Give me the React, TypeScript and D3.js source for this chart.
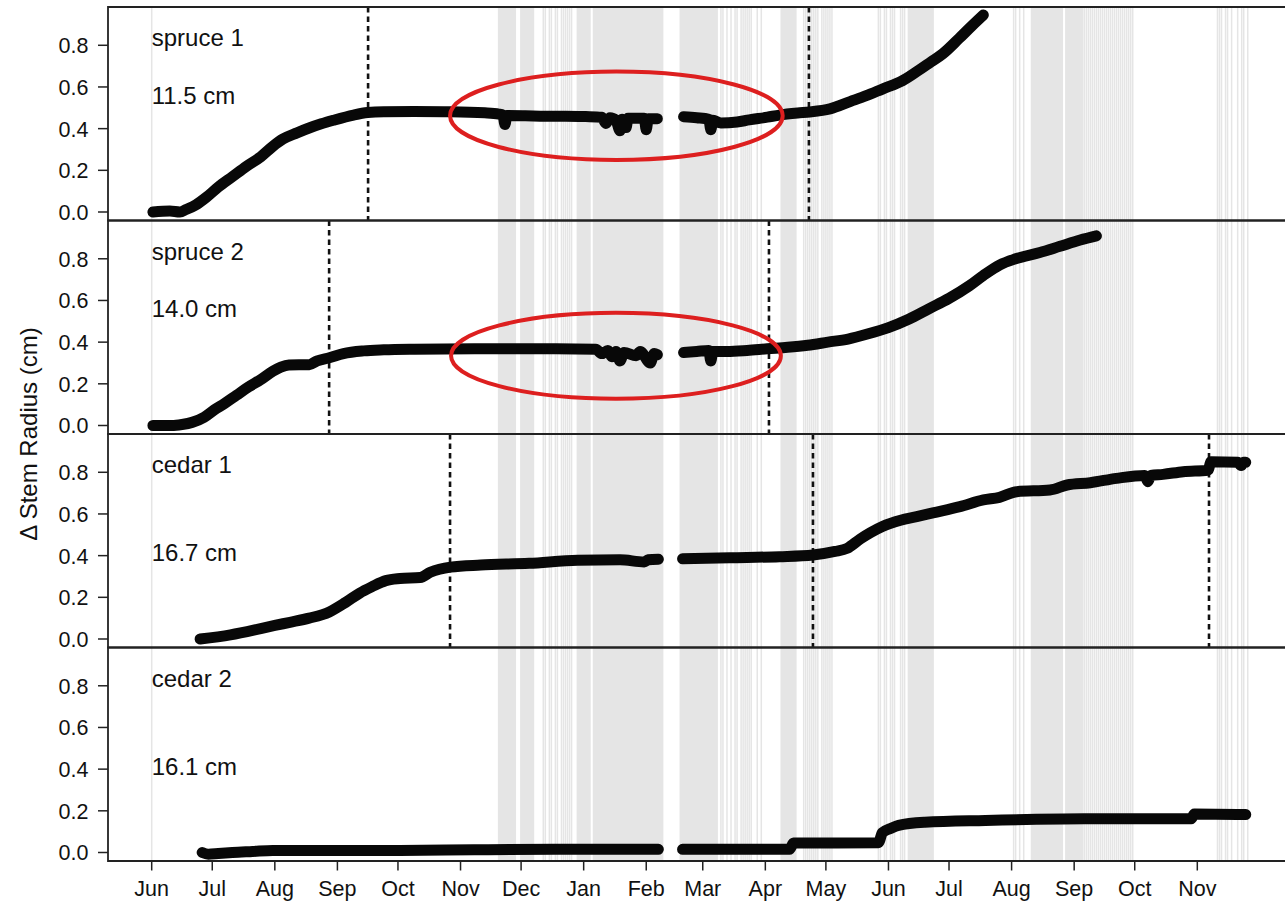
import React, { useEffect, useRef } from 'react'
import * as d3 from 'd3'

// time is counted in days since 1 Jun 2014
const startDate = new Date(Date.UTC(2014, 5, 1))
const lastTickDate = new Date(Date.UTC(2015, 10, 1))

const treeNames = ['spruce 1', 'spruce 2', 'cedar 1', 'cedar 2']
const treeSizes = ['11.5 cm', '14.0 cm', '16.7 cm', '16.1 cm']
const nameLabelValue = [0.835, 0.835, 0.835, 0.835]
const sizeLabelValue = [0.56, 0.56, 0.415, 0.415]
const yTicks = [0, 0.2, 0.4, 0.6, 0.8]

// [day, stem radius change in cm], null = no data
const spruce1 = [
  [0.6, 0.0], [9, 0.005], [14, 0.0], [17, 0.012], [22, 0.035], [27, 0.07], [33, 0.12],
  [40, 0.17], [47, 0.22], [54, 0.265], [60, 0.315], [65, 0.35], [72, 0.38], [78, 0.403],
  [84, 0.423], [90, 0.44], [100, 0.465], [107, 0.477], [115, 0.481], [130, 0.482],
  [148, 0.481], [165, 0.476], [172, 0.47], [174, 0.465], [175, 0.42], [176, 0.463],
  [185, 0.462], [195, 0.46], [205, 0.46], [215, 0.458], [223, 0.455], [225, 0.425],
  [227, 0.452], [230, 0.44], [232, 0.39], [233, 0.445], [235, 0.405], [236, 0.45],
  [240, 0.45], [244, 0.45], [245, 0.395], [246, 0.448], [250.5, 0.448], [251, null],
  [263.5, 0.457], [270, 0.452], [276, 0.445], [277, 0.395], [278, 0.44], [282, 0.427],
  [290, 0.432], [296, 0.442], [305, 0.455], [311, 0.465], [320, 0.475], [326, 0.48],
  [336, 0.495], [346, 0.53], [354, 0.558], [362, 0.59], [372, 0.63], [380, 0.68],
  [386, 0.72], [392, 0.76], [400, 0.833], [406, 0.89], [412, 0.945],
]

const spruce2 = [
  [0.6, 0.0], [10, 0.0], [15, 0.005], [20, 0.015], [26, 0.04], [31, 0.075], [36, 0.105],
  [42, 0.145], [48, 0.185], [54, 0.22], [60, 0.26], [64, 0.28], [68, 0.29], [78, 0.292],
  [82, 0.31], [88, 0.325], [95, 0.345], [105, 0.358], [115, 0.363], [130, 0.366],
  [160, 0.368], [190, 0.368], [220, 0.366], [223, 0.345], [226, 0.36], [228, 0.33],
  [230, 0.355], [232, 0.31], [234, 0.35], [240, 0.335], [242, 0.355], [247, 0.3],
  [249, 0.345], [250.5, 0.34], [251, null], [263.5, 0.35], [270, 0.355], [276, 0.36],
  [277, 0.31], [278, 0.355], [285, 0.355], [295, 0.36], [305, 0.368], [315, 0.375],
  [325, 0.385], [335, 0.4], [345, 0.415], [355, 0.44], [365, 0.47], [375, 0.51],
  [385, 0.56], [395, 0.61], [405, 0.67], [412, 0.72], [420, 0.77], [428, 0.8],
  [440, 0.83], [450, 0.86], [460, 0.89], [468, 0.91],
]

const cedar1 = [
  [24, 0.0], [39, 0.02], [54, 0.05], [61, 0.065], [68.5, 0.08], [78, 0.1], [88, 0.13],
  [96, 0.175], [103, 0.22], [109, 0.25], [116, 0.28], [123, 0.29], [133, 0.295],
  [138, 0.32], [148, 0.345], [163, 0.355], [187, 0.363], [211, 0.378], [232, 0.38],
  [244, 0.37], [246, 0.38], [251, 0.383], [251.5, null], [263, 0.385], [286.5, 0.39],
  [311, 0.395], [327.6, 0.403], [338.5, 0.42], [344.5, 0.435], [351, 0.48], [356, 0.51],
  [362, 0.54], [371, 0.57], [379, 0.587], [387, 0.605], [400.4, 0.635], [412, 0.667],
  [420, 0.68], [428.6, 0.707], [445, 0.715], [453.5, 0.739], [465, 0.75], [478, 0.771],
  [492, 0.785], [493.5, 0.755], [495, 0.785], [501, 0.79], [511, 0.803], [523.3, 0.81],
  [524.8, 0.85], [538, 0.848], [539.7, 0.832], [541, 0.848], [542, 0.848],
]

const cedar2 = [
  [25, 0.0], [28, -0.008], [33, -0.005], [40, 0.0], [50, 0.005], [60, 0.01], [100, 0.01],
  [123, 0.01], [160, 0.013], [200, 0.015], [251, 0.015], [251.5, null], [263, 0.015],
  [316, 0.016], [318, 0.045], [360, 0.047], [362, 0.095], [366, 0.115], [370, 0.13],
  [383, 0.145], [413, 0.154], [462, 0.162], [515, 0.162], [516.5, 0.185], [542, 0.182],
]

const series = [spruce1, spruce2, cedar1, cedar2]

// dotted markers, by panel (day)
const markerDays = [[107.2, 325.6], [87.9, 305.8], [147.8, 327.6, 523.8], []]

// shaded days: continuous runs and single days
const shadedRuns = [
  [172, 180], [183, 189], [211, 217], [219, 253], [262, 280], [312, 319],
  [375, 387], [436, 451], [453, 461],
]
const shadedDays = [
  0, 194, 195, 197, 198, 200, 201, 203, 204, 205, 206, 207, 208,
  282, 283, 285, 287, 289, 290, 292, 293, 294, 295, 296, 297, 300, 302,
  323, 324, 325, 326, 327, 328, 329, 330, 332, 333, 334, 335, 336, 337,
  360, 361, 363, 364, 366, 367, 368, 371, 372, 373,
  427, 428, 430, 432,
  462, 463, 464, 465, 466, 467, 468, 469, 470, 471, 472, 473, 474, 475, 476, 477,
  478, 479, 480, 481, 482, 483, 484, 485, 486,
  528, 529, 530, 532, 533, 535, 538, 540, 541, 543,
]

// red ellipses (panel, centre day, centre value, half width in days, half height in cm)
const circled = [
  { panel: 0, day: 230.2, value: 0.462, rxDays: 82.4, ryValue: 0.212 },
  { panel: 1, day: 230, value: 0.3345, rxDays: 81.7, ryValue: 0.206 },
]

const W = 1285
const H = 905
const plotLeft = 108
const plotRight = 1300
const plotTop = 7
const panelH = 213.5
const font = '"Liberation Sans", Arial, sans-serif'

const dayToDate = (d) => new Date(startDate.getTime() + d * 864e5)

export default function App() {
  const ref = useRef(null)

  useEffect(() => {
    const svg = d3.select(ref.current)
    svg.selectAll('*').remove()

    const x = d3.scaleUtc().domain([startDate, lastTickDate]).range([151.7, 1197.3])
    const xd = (d) => x(dayToDate(d))
    const plotBottom = plotTop + 4 * panelH
    const yFor = (i) => d3.scaleLinear()
      .domain([-0.0408, 0.9837])
      .range([plotTop + (i + 1) * panelH, plotTop + i * panelH])

    svg.append('rect').attr('width', W).attr('height', H).attr('fill', '#fff')

    // shading
    const shade = svg.append('g').attr('fill', '#e5e5e5')
    shadedRuns.forEach(r => {
      shade.append('rect')
        .attr('x', xd(r[0]) - 1)
        .attr('y', plotTop)
        .attr('width', xd(r[1]) - xd(r[0]) + 2)
        .attr('height', plotBottom - plotTop)
    })
    shadedDays.forEach(d => {
      shade.append('rect')
        .attr('x', xd(d) - 0.75)
        .attr('y', plotTop)
        .attr('width', 1.5)
        .attr('height', plotBottom - plotTop)
    })

    const line = d3.line()
      .defined(d => d[1] != null)
      .curve(d3.curveMonotoneX)

    for (let i = 0; i < 4; i++) {
      const y = yFor(i)
      const g = svg.append('g')
      const top = plotTop + i * panelH

      // dotted markers
      markerDays[i].forEach(d => {
        g.append('line')
          .attr('x1', xd(d)).attr('x2', xd(d))
          .attr('y1', top).attr('y2', top + panelH)
          .attr('stroke', '#111')
          .attr('stroke-width', 2.6)
          .attr('stroke-dasharray', '5.5 4')
      })

      // data
      line.x(d => xd(d[0])).y(d => y(d[1]))
      g.append('path')
        .attr('d', line(series[i]))
        .attr('fill', 'none')
        .attr('stroke', '#080808')
        .attr('stroke-width', 11)
        .attr('stroke-linecap', 'round')
        .attr('stroke-linejoin', 'round')

      // labels
      g.append('text')
        .attr('x', xd(0))
        .attr('y', y(nameLabelValue[i]))
        .attr('dominant-baseline', 'central')
        .style('font-family', font)
        .style('font-size', '24px')
        .attr('fill', '#111')
        .text(treeNames[i])
      g.append('text')
        .attr('x', xd(0))
        .attr('y', y(sizeLabelValue[i]))
        .attr('dominant-baseline', 'central')
        .style('font-family', font)
        .style('font-size', '24px')
        .attr('fill', '#111')
        .text(treeSizes[i])

      // y axis
      yTicks.forEach(t => {
        g.append('line')
          .attr('x1', plotLeft - 10).attr('x2', plotLeft)
          .attr('y1', y(t)).attr('y2', y(t))
          .attr('stroke', '#222').attr('stroke-width', 1.5)
        g.append('text')
          .attr('x', plotLeft - 19.5)
          .attr('y', y(t) + 1)
          .attr('text-anchor', 'end')
          .attr('dominant-baseline', 'central')
          .style('font-family', font)
          .style('font-size', '21.5px')
          .attr('fill', '#111')
          .text(d3.format('.1f')(t))
      })

      // panel frame
      g.append('path')
        .attr('d', `M${plotRight},${top}H${plotLeft}V${top + panelH}H${plotRight}`)
        .attr('fill', 'none')
        .attr('stroke', '#222')
        .attr('stroke-width', 1.8)
    }

    // red ellipses
    circled.forEach(c => {
      const y = yFor(c.panel)
      svg.append('ellipse')
        .attr('cx', xd(c.day))
        .attr('cy', y(c.value))
        .attr('rx', xd(c.day + c.rxDays) - xd(c.day))
        .attr('ry', y(0) - y(c.ryValue))
        .attr('fill', 'none')
        .attr('stroke', '#dd1f1f')
        .attr('stroke-width', 4)
    })

    // x axis
    const months = d3.utcMonth.range(startDate, d3.utcMonth.offset(lastTickDate, 1))
    const xa = svg.append('g')
    months.forEach(m => {
      xa.append('line')
        .attr('x1', x(m)).attr('x2', x(m))
        .attr('y1', plotBottom).attr('y2', plotBottom + 9.5)
        .attr('stroke', '#222').attr('stroke-width', 1.5)
      xa.append('text')
        .attr('x', x(m))
        .attr('y', plotBottom + 35)
        .attr('text-anchor', 'middle')
        .style('font-family', font)
        .style('font-size', '21.5px')
        .attr('fill', '#111')
        .text(d3.utcFormat('%b')(m))
    })

    // y title
    svg.append('text')
      .attr('transform', `translate(37,${(plotTop + plotBottom) / 2}) rotate(-90)`)
      .attr('text-anchor', 'middle')
      .style('font-family', font)
      .style('font-size', '24px')
      .attr('fill', '#111')
      .text('Δ Stem Radius (cm)')
  }, [])

  return (
    <svg ref={ref} width={W} height={H}
      style={{ position: 'absolute', left: 0, top: 0, display: 'block' }} />
  )
}
